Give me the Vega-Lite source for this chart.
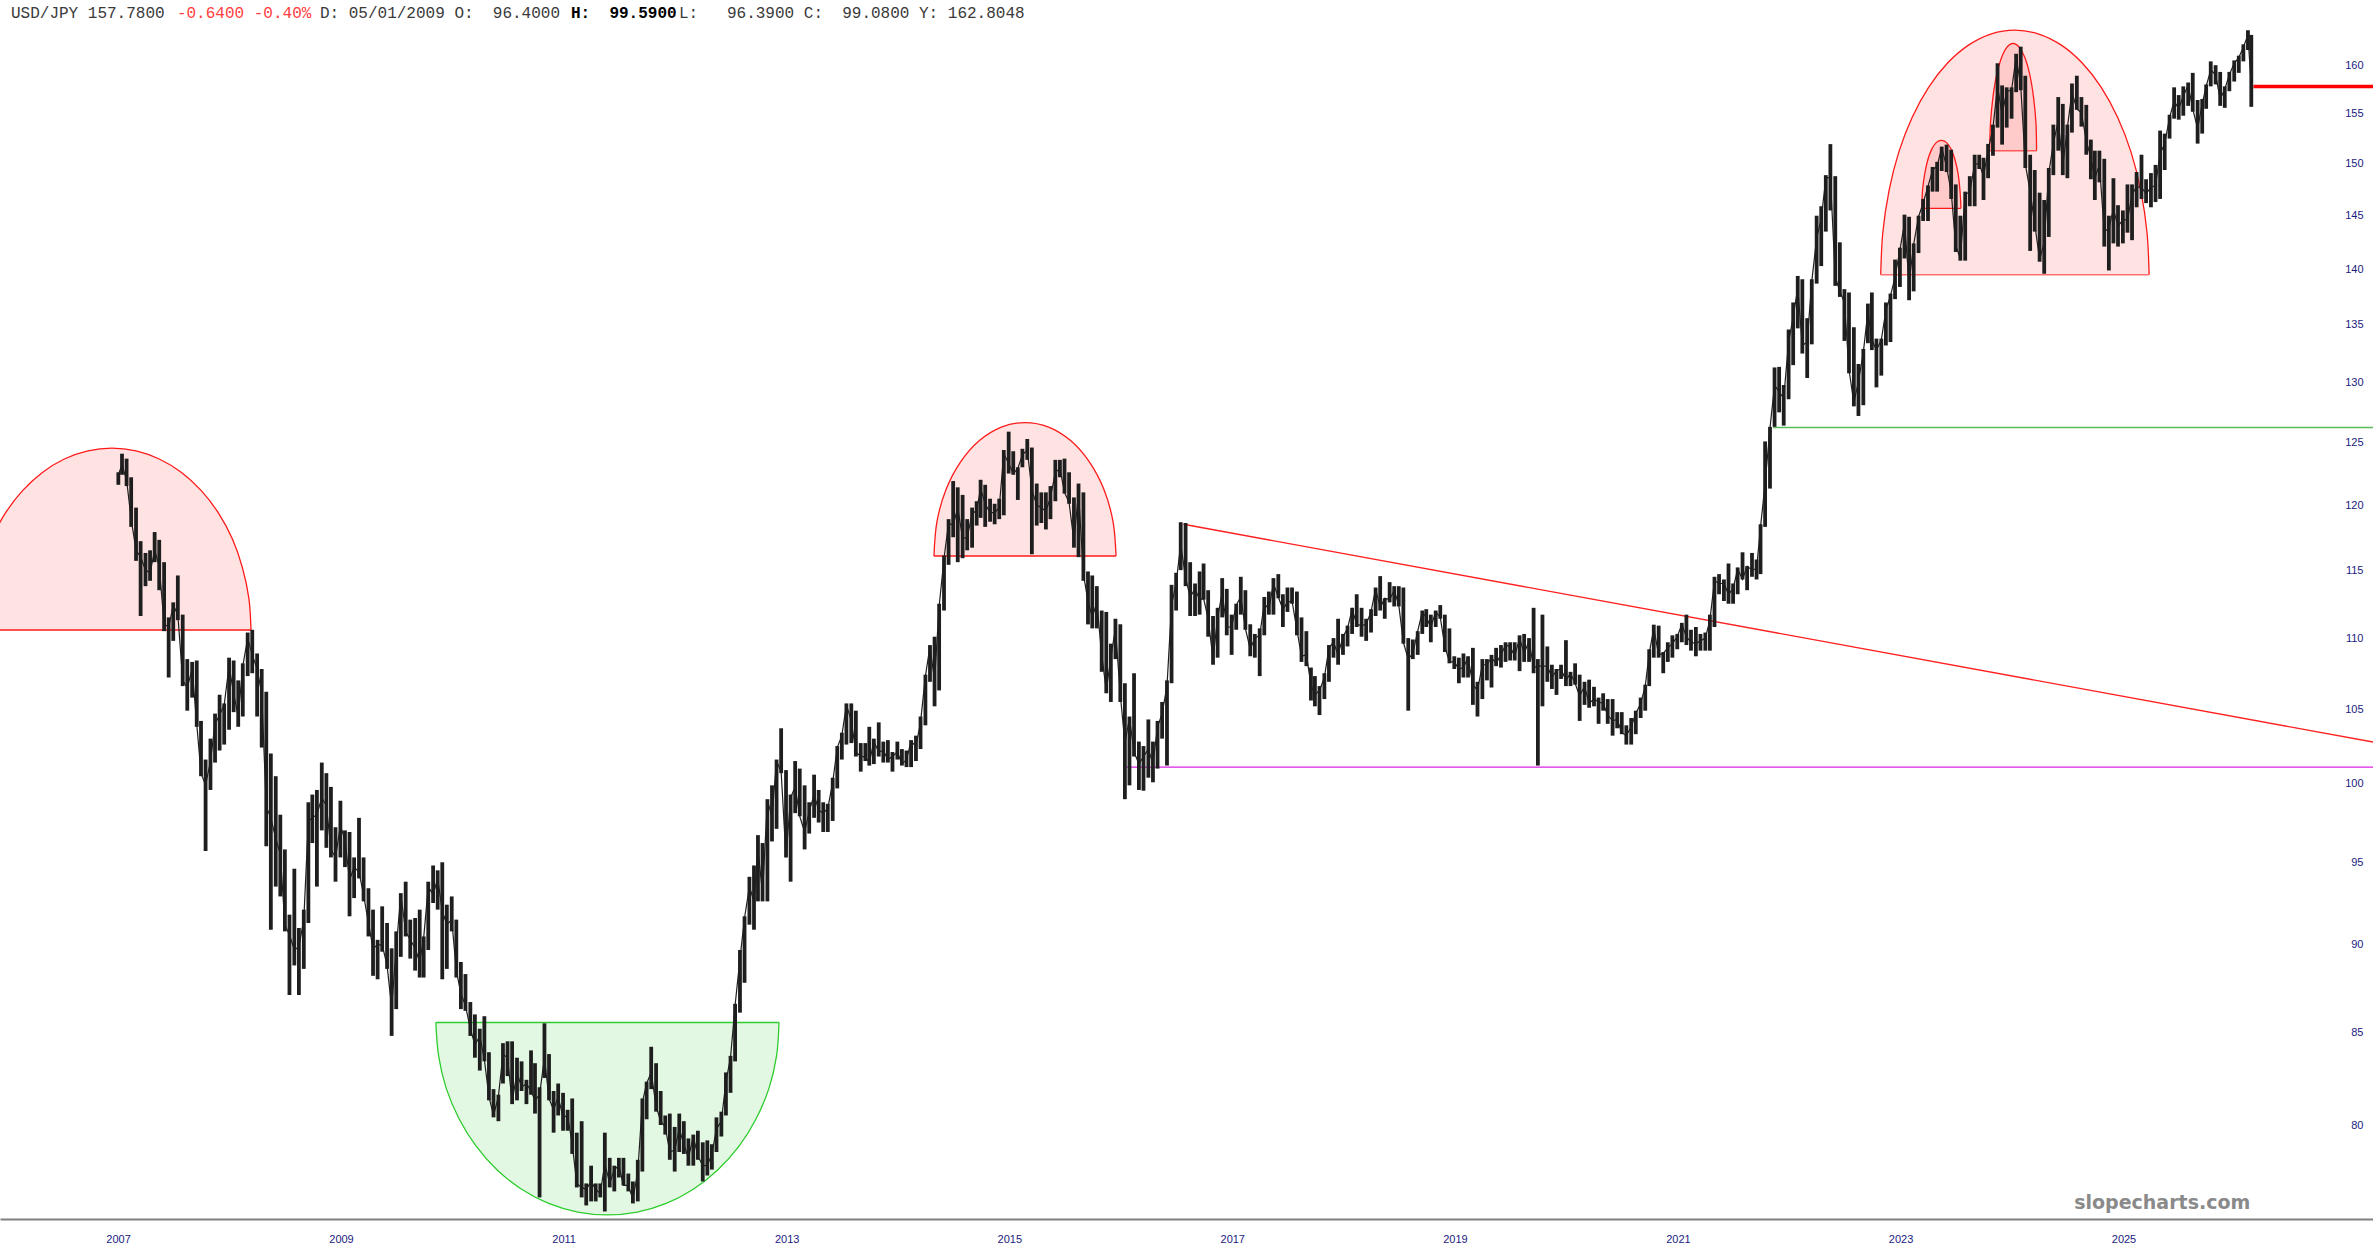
{
  "$schema": "https://vega.github.io/schema/vega-lite/v6.json",
  "width": 2373,
  "height": 1219,
  "padding": 0,
  "autosize": {"type": "pad"},
  "background": "#ffffff",
  "config": {
    "view": {"stroke": null},
    "axisY": {
      "grid": false,
      "ticks": false,
      "domain": false,
      "labelAlign": "right",
      "labelBaseline": "middle",
      "labelPadding": 0,
      "labelColor": "#1a1a80",
      "labelFont": "Liberation Sans Narrow, Liberation Sans, sans-serif",
      "labelFontSize": 11,
      "labelOverlap": false,
      "labelFlush": false
    }
  },
  "datasets": {
    "fx": [
      {"d":"2007-06-11","h":122.6,"l":121.6,"c":122.4},{"d":"2007-06-23","h":124.1,"l":122.4,"c":123.2},
      {"d":"2007-07-08","h":123.7,"l":121.5,"c":122.0},{"d":"2007-07-23","h":122.2,"l":118.3,"c":118.9},
      {"d":"2007-08-08","h":119.8,"l":115.7,"c":116.5},{"d":"2007-08-23","h":117.2,"l":111.6,"c":116.0},
      {"d":"2007-09-08","h":116.3,"l":113.8,"c":115.0},{"d":"2007-09-23","h":116.5,"l":114.2,"c":114.8},
      {"d":"2007-10-08","h":117.9,"l":115.6,"c":116.5},{"d":"2007-10-23","h":117.3,"l":113.5,"c":115.3},
      {"d":"2007-11-08","h":115.6,"l":110.5,"c":111.0},{"d":"2007-11-23","h":111.5,"l":107.2,"c":110.8},
      {"d":"2007-12-08","h":112.6,"l":109.8,"c":112.4},{"d":"2007-12-23","h":114.6,"l":111.3,"c":111.7},
      {"d":"2008-01-08","h":111.7,"l":106.6,"c":107.0},{"d":"2008-01-23","h":108.5,"l":104.9,"c":106.5},
      {"d":"2008-02-08","h":108.3,"l":105.8,"c":107.8},{"d":"2008-02-23","h":108.4,"l":103.8,"c":104.0},
      {"d":"2008-03-08","h":104.2,"l":100.5,"c":100.7},{"d":"2008-03-23","h":101.6,"l":95.7,"c":99.9},
      {"d":"2008-04-08","h":103.0,"l":99.6,"c":101.5},{"d":"2008-04-23","h":104.7,"l":101.4,"c":104.0},
      {"d":"2008-05-08","h":106.0,"l":102.2,"c":104.6},{"d":"2008-05-23","h":105.4,"l":102.6,"c":105.3},
      {"d":"2008-06-08","h":108.6,"l":103.6,"c":108.0},{"d":"2008-06-23","h":108.4,"l":104.8,"c":106.1},
      {"d":"2008-07-08","h":107.0,"l":103.8,"c":104.5},{"d":"2008-07-23","h":108.2,"l":104.5,"c":108.0},
      {"d":"2008-08-08","h":110.4,"l":107.3,"c":110.0},{"d":"2008-08-23","h":110.6,"l":107.5,"c":108.8},
      {"d":"2008-09-08","h":108.9,"l":104.5,"c":107.8},{"d":"2008-09-23","h":107.8,"l":102.4,"c":106.1},
      {"d":"2008-10-08","h":106.2,"l":96.0,"c":98.5},{"d":"2008-10-23","h":102.0,"l":90.9,"c":97.8},
      {"d":"2008-11-08","h":100.5,"l":93.5,"c":96.5},{"d":"2008-11-23","h":98.0,"l":92.9,"c":95.5},
      {"d":"2008-12-08","h":95.8,"l":90.8,"c":91.2},{"d":"2008-12-23","h":91.8,"l":87.1,"c":90.6},
      {"d":"2009-01-08","h":94.6,"l":88.8,"c":89.7},{"d":"2009-01-23","h":91.0,"l":87.1,"c":89.9},
      {"d":"2009-02-08","h":92.1,"l":88.6,"c":91.5},{"d":"2009-02-23","h":98.8,"l":91.3,"c":97.6},
      {"d":"2009-03-08","h":99.3,"l":96.2,"c":97.8},{"d":"2009-03-23","h":99.6,"l":93.5,"c":98.0},
      {"d":"2009-04-08","h":101.4,"l":97.0,"c":99.1},{"d":"2009-04-23","h":100.7,"l":95.9,"c":98.6},
      {"d":"2009-05-08","h":99.8,"l":95.3,"c":95.8},{"d":"2009-05-23","h":97.2,"l":93.8,"c":95.3},
      {"d":"2009-06-08","h":98.9,"l":95.3,"c":97.3},{"d":"2009-06-23","h":97.0,"l":94.7,"c":96.4},
      {"d":"2009-07-08","h":96.9,"l":91.7,"c":93.9},{"d":"2009-07-23","h":95.3,"l":92.8,"c":94.7},
      {"d":"2009-08-08","h":97.8,"l":94.0,"c":94.4},{"d":"2009-08-23","h":95.3,"l":92.6,"c":93.0},
      {"d":"2009-09-08","h":93.4,"l":90.5,"c":91.3},{"d":"2009-09-23","h":92.1,"l":88.2,"c":89.8},
      {"d":"2009-10-08","h":90.3,"l":88.0,"c":90.0},{"d":"2009-10-23","h":92.3,"l":89.6,"c":90.0},
      {"d":"2009-11-08","h":91.3,"l":88.6,"c":88.8},{"d":"2009-11-23","h":89.8,"l":84.8,"c":86.4},
      {"d":"2009-12-08","h":90.8,"l":86.3,"c":89.8},{"d":"2009-12-23","h":93.1,"l":89.3,"c":93.0},
      {"d":"2010-01-08","h":93.8,"l":90.5,"c":90.8},{"d":"2010-01-23","h":91.5,"l":89.2,"c":90.3},
      {"d":"2010-02-08","h":91.6,"l":88.5,"c":89.8},{"d":"2010-02-23","h":92.1,"l":88.1,"c":89.0},
      {"d":"2010-03-08","h":90.5,"l":88.1,"c":90.4},{"d":"2010-03-23","h":93.8,"l":89.7,"c":93.5},
      {"d":"2010-04-08","h":94.8,"l":92.5,"c":93.0},{"d":"2010-04-23","h":94.5,"l":92.1,"c":94.0},
      {"d":"2010-05-08","h":95.0,"l":88.0,"c":92.0},{"d":"2010-05-23","h":92.4,"l":88.6,"c":91.2},
      {"d":"2010-06-08","h":92.9,"l":90.8,"c":91.5},{"d":"2010-06-23","h":91.5,"l":88.1,"c":88.5},
      {"d":"2010-07-08","h":89.0,"l":86.3,"c":87.2},{"d":"2010-07-23","h":88.3,"l":86.2,"c":86.5},
      {"d":"2010-08-08","h":86.7,"l":84.8,"c":85.2},{"d":"2010-08-23","h":86.0,"l":83.6,"c":84.3},
      {"d":"2010-09-08","h":85.2,"l":82.9,"c":84.8},{"d":"2010-09-23","h":85.9,"l":83.4,"c":83.5},
      {"d":"2010-10-08","h":83.9,"l":81.3,"c":81.5},{"d":"2010-10-23","h":81.9,"l":80.4,"c":80.5},
      {"d":"2010-11-08","h":81.6,"l":80.2,"c":81.5},{"d":"2010-11-23","h":84.4,"l":82.2,"c":83.8},
      {"d":"2010-12-08","h":84.5,"l":82.6,"c":83.6},{"d":"2010-12-23","h":84.5,"l":81.1,"c":81.2},
      {"d":"2011-01-08","h":83.6,"l":81.3,"c":82.8},{"d":"2011-01-23","h":83.4,"l":81.8,"c":82.0},
      {"d":"2011-02-08","h":82.4,"l":81.1,"c":82.2},{"d":"2011-02-23","h":84.0,"l":81.6,"c":81.8},
      {"d":"2011-03-08","h":83.3,"l":80.6,"c":81.3},{"d":"2011-03-23","h":82.0,"l":76.3,"c":81.6},
      {"d":"2011-04-08","h":85.5,"l":82.5,"c":83.6},{"d":"2011-04-23","h":83.8,"l":81.3,"c":81.4},
      {"d":"2011-05-08","h":81.8,"l":79.6,"c":80.8},{"d":"2011-05-23","h":82.2,"l":80.5,"c":81.5},
      {"d":"2011-06-08","h":81.7,"l":79.7,"c":80.4},{"d":"2011-06-23","h":80.8,"l":79.7,"c":80.5},
      {"d":"2011-07-08","h":81.4,"l":78.5,"c":79.0},{"d":"2011-07-23","h":79.6,"l":76.8,"c":77.0},
      {"d":"2011-08-08","h":80.2,"l":76.3,"c":76.8},{"d":"2011-08-23","h":77.0,"l":75.9,"c":76.7},
      {"d":"2011-09-08","h":77.9,"l":76.1,"c":77.1},{"d":"2011-09-23","h":77.0,"l":76.1,"c":76.7},
      {"d":"2011-10-08","h":77.0,"l":76.3,"c":76.5},{"d":"2011-10-23","h":79.6,"l":75.6,"c":78.0},
      {"d":"2011-11-08","h":78.3,"l":76.8,"c":77.0},{"d":"2011-11-23","h":77.9,"l":76.6,"c":77.7},
      {"d":"2011-12-08","h":78.3,"l":77.3,"c":77.9},{"d":"2011-12-23","h":78.3,"l":76.9,"c":76.9},
      {"d":"2012-01-08","h":77.5,"l":76.6,"c":76.9},{"d":"2012-01-23","h":77.1,"l":76.0,"c":76.2},
      {"d":"2012-02-08","h":78.2,"l":76.1,"c":77.6},{"d":"2012-02-23","h":81.4,"l":77.6,"c":81.2},
      {"d":"2012-03-08","h":82.3,"l":80.3,"c":82.2},{"d":"2012-03-23","h":84.2,"l":81.9,"c":82.8},
      {"d":"2012-04-08","h":83.3,"l":80.7,"c":81.0},{"d":"2012-04-23","h":81.8,"l":80.0,"c":80.2},
      {"d":"2012-05-08","h":80.5,"l":79.5,"c":79.9},{"d":"2012-05-23","h":80.6,"l":78.2,"c":78.6},
      {"d":"2012-06-08","h":79.9,"l":77.6,"c":78.7},{"d":"2012-06-23","h":80.6,"l":78.6,"c":79.8},
      {"d":"2012-07-08","h":80.2,"l":78.5,"c":79.0},{"d":"2012-07-23","h":79.3,"l":77.9,"c":78.3},
      {"d":"2012-08-08","h":79.5,"l":77.9,"c":79.4},{"d":"2012-08-23","h":79.7,"l":78.2,"c":78.4},
      {"d":"2012-09-08","h":79.1,"l":77.1,"c":77.9},{"d":"2012-09-23","h":79.2,"l":77.4,"c":77.9},
      {"d":"2012-10-08","h":79.0,"l":77.7,"c":78.5},{"d":"2012-10-23","h":80.4,"l":78.6,"c":79.8},
      {"d":"2012-11-08","h":80.7,"l":79.4,"c":80.2},{"d":"2012-11-23","h":82.8,"l":80.5,"c":82.3},
      {"d":"2012-12-08","h":83.7,"l":81.7,"c":83.6},{"d":"2012-12-23","h":86.6,"l":83.4,"c":86.5},
      {"d":"2013-01-08","h":89.7,"l":86.1,"c":89.2},{"d":"2013-01-23","h":91.7,"l":87.8,"c":91.6},
      {"d":"2013-02-08","h":94.1,"l":91.2,"c":93.5},{"d":"2013-02-23","h":94.8,"l":90.9,"c":92.6},
      {"d":"2013-03-08","h":96.7,"l":92.6,"c":95.8},{"d":"2013-03-23","h":96.2,"l":92.6,"c":93.1},
      {"d":"2013-04-08","h":99.0,"l":92.6,"c":98.9},{"d":"2013-04-23","h":99.9,"l":96.3,"c":97.9},
      {"d":"2013-05-08","h":101.6,"l":97.1,"c":101.5},{"d":"2013-05-23","h":103.7,"l":100.7,"c":100.8},
      {"d":"2013-06-08","h":100.9,"l":95.3,"c":95.3},{"d":"2013-06-23","h":99.3,"l":93.8,"c":99.1},
      {"d":"2013-07-08","h":101.5,"l":98.1,"c":99.8},{"d":"2013-07-23","h":101.0,"l":97.9,"c":97.9},
      {"d":"2013-08-08","h":99.9,"l":95.8,"c":96.9},{"d":"2013-08-23","h":98.8,"l":96.8,"c":98.2},
      {"d":"2013-09-08","h":100.6,"l":97.8,"c":99.3},{"d":"2013-09-23","h":99.6,"l":97.5,"c":98.3},
      {"d":"2013-10-08","h":98.8,"l":96.9,"c":98.1},{"d":"2013-10-23","h":98.7,"l":96.9,"c":98.4},
      {"d":"2013-11-08","h":100.4,"l":97.6,"c":100.1},{"d":"2013-11-23","h":102.5,"l":99.7,"c":102.4},
      {"d":"2013-12-08","h":103.4,"l":101.6,"c":103.2},{"d":"2013-12-23","h":105.4,"l":102.6,"c":105.3},
      {"d":"2014-01-08","h":105.4,"l":102.7,"c":104.2},{"d":"2014-01-23","h":104.9,"l":101.8,"c":102.1},
      {"d":"2014-02-08","h":102.7,"l":100.8,"c":101.8},{"d":"2014-02-23","h":102.7,"l":101.5,"c":101.8},
      {"d":"2014-03-08","h":103.8,"l":101.2,"c":101.4},{"d":"2014-03-23","h":103.0,"l":101.3,"c":102.8},
      {"d":"2014-04-08","h":104.1,"l":101.8,"c":102.1},{"d":"2014-04-23","h":102.8,"l":101.4,"c":102.2},
      {"d":"2014-05-08","h":102.9,"l":101.4,"c":101.6},{"d":"2014-05-23","h":102.1,"l":100.8,"c":101.8},
      {"d":"2014-06-08","h":102.8,"l":101.6,"c":102.1},{"d":"2014-06-23","h":102.3,"l":101.2,"c":101.3},
      {"d":"2014-07-08","h":102.2,"l":101.1,"c":101.6},{"d":"2014-07-23","h":102.9,"l":101.1,"c":102.8},
      {"d":"2014-08-08","h":103.2,"l":101.5,"c":102.5},{"d":"2014-08-23","h":104.5,"l":102.3,"c":104.1},
      {"d":"2014-09-08","h":107.4,"l":103.9,"c":107.3},{"d":"2014-09-23","h":109.5,"l":106.9,"c":109.4},
      {"d":"2014-10-08","h":110.1,"l":105.2,"c":107.0},{"d":"2014-10-23","h":112.5,"l":106.3,"c":112.3},
      {"d":"2014-11-08","h":116.1,"l":112.0,"c":115.9},{"d":"2014-11-23","h":118.9,"l":115.4,"c":118.6},
      {"d":"2014-12-08","h":121.9,"l":117.5,"c":118.4},{"d":"2014-12-23","h":121.4,"l":115.6,"c":119.8},
      {"d":"2015-01-08","h":120.8,"l":115.9,"c":117.4},{"d":"2015-01-23","h":118.9,"l":116.5,"c":117.5},
      {"d":"2015-02-08","h":119.8,"l":116.7,"c":119.3},{"d":"2015-02-23","h":120.3,"l":118.4,"c":119.6},
      {"d":"2015-03-08","h":122.0,"l":119.0,"c":121.3},{"d":"2015-03-23","h":121.6,"l":118.3,"c":120.1},
      {"d":"2015-04-08","h":120.5,"l":118.7,"c":119.4},{"d":"2015-04-23","h":120.1,"l":118.5,"c":119.4},
      {"d":"2015-05-08","h":120.5,"l":118.9,"c":119.8},{"d":"2015-05-23","h":124.4,"l":119.2,"c":124.1},
      {"d":"2015-06-08","h":125.9,"l":122.5,"c":123.3},{"d":"2015-06-23","h":124.3,"l":122.4,"c":122.5},
      {"d":"2015-07-08","h":123.0,"l":120.4,"c":122.9},{"d":"2015-07-23","h":124.5,"l":123.0,"c":124.0},
      {"d":"2015-08-08","h":125.3,"l":123.6,"c":124.4},{"d":"2015-08-23","h":124.6,"l":116.2,"c":121.2},
      {"d":"2015-09-08","h":121.7,"l":118.4,"c":120.0},{"d":"2015-09-23","h":121.0,"l":118.6,"c":119.8},
      {"d":"2015-10-08","h":121.0,"l":118.1,"c":119.5},{"d":"2015-10-23","h":121.5,"l":118.9,"c":120.6},
      {"d":"2015-11-08","h":123.6,"l":120.3,"c":122.6},{"d":"2015-11-23","h":123.6,"l":122.2,"c":122.9},
      {"d":"2015-12-08","h":123.7,"l":120.9,"c":121.0},{"d":"2015-12-23","h":122.6,"l":120.1,"c":120.2},
      {"d":"2016-01-08","h":120.6,"l":116.7,"c":117.2},{"d":"2016-01-23","h":121.7,"l":115.98,"c":121.0},
      {"d":"2016-02-08","h":121.0,"l":114.2,"c":114.7},{"d":"2016-02-23","h":114.9,"l":110.99,"c":112.7},
      {"d":"2016-03-08","h":114.6,"l":110.7,"c":111.5},{"d":"2016-03-23","h":113.8,"l":110.7,"c":112.6},
      {"d":"2016-04-08","h":112.0,"l":107.6,"c":108.8},{"d":"2016-04-23","h":111.9,"l":106.1,"c":106.3},
      {"d":"2016-05-08","h":109.6,"l":105.5,"c":108.6},{"d":"2016-05-23","h":111.4,"l":108.5,"c":110.7},
      {"d":"2016-06-08","h":111.0,"l":105.5,"c":106.0},{"d":"2016-06-23","h":106.8,"l":99.0,"c":102.7},
      {"d":"2016-07-08","h":104.5,"l":99.9,"c":104.4},{"d":"2016-07-23","h":107.5,"l":101.8,"c":102.1},
      {"d":"2016-08-08","h":102.8,"l":99.6,"c":101.3},{"d":"2016-08-23","h":102.5,"l":99.55,"c":101.8},
      {"d":"2016-09-08","h":104.3,"l":100.4,"c":102.3},{"d":"2016-09-23","h":102.8,"l":100.1,"c":101.3},
      {"d":"2016-10-08","h":104.2,"l":101.0,"c":103.8},{"d":"2016-10-23","h":105.5,"l":103.0,"c":104.7},
      {"d":"2016-11-08","h":107.0,"l":101.2,"c":106.6},{"d":"2016-11-23","h":113.9,"l":106.8,"c":112.4},
      {"d":"2016-12-08","h":114.8,"l":112.0,"c":114.0},{"d":"2016-12-23","h":118.66,"l":115.0,"c":117.0},
      {"d":"2017-01-08","h":118.6,"l":113.8,"c":114.4},{"d":"2017-01-23","h":115.6,"l":111.6,"c":113.0},
      {"d":"2017-02-08","h":114.0,"l":111.6,"c":113.6},{"d":"2017-02-23","h":114.9,"l":111.7,"c":112.8},
      {"d":"2017-03-08","h":115.5,"l":112.8,"c":112.9},{"d":"2017-03-23","h":113.5,"l":110.1,"c":111.4},
      {"d":"2017-04-08","h":111.6,"l":108.1,"c":108.5},{"d":"2017-04-23","h":112.2,"l":108.6,"c":111.5},
      {"d":"2017-05-08","h":114.4,"l":111.5,"c":113.3},{"d":"2017-05-23","h":113.6,"l":110.2,"c":110.8},
      {"d":"2017-06-08","h":111.7,"l":108.8,"c":110.8},{"d":"2017-06-23","h":112.5,"l":110.6,"c":112.4},
      {"d":"2017-07-08","h":114.5,"l":111.7,"c":113.0},{"d":"2017-07-23","h":113.5,"l":110.6,"c":110.7},
      {"d":"2017-08-08","h":111.0,"l":108.7,"c":109.2},{"d":"2017-08-23","h":110.3,"l":108.6,"c":110.0},
      {"d":"2017-09-08","h":110.7,"l":107.3,"c":110.2},{"d":"2017-09-23","h":113.0,"l":110.2,"c":112.5},
      {"d":"2017-10-08","h":113.4,"l":111.7,"c":112.1},{"d":"2017-10-23","h":114.4,"l":111.7,"c":114.0},
      {"d":"2017-11-08","h":114.7,"l":112.9,"c":113.0},{"d":"2017-11-23","h":113.2,"l":110.8,"c":112.1},
      {"d":"2017-12-08","h":113.7,"l":111.9,"c":112.6},{"d":"2017-12-23","h":113.7,"l":112.5,"c":112.7},
      {"d":"2018-01-08","h":113.4,"l":110.2,"c":110.6},{"d":"2018-01-23","h":111.5,"l":108.3,"c":108.7},
      {"d":"2018-02-08","h":110.5,"l":108.0,"c":108.8},{"d":"2018-02-23","h":107.9,"l":105.6,"c":106.7},
      {"d":"2018-03-08","h":107.3,"l":105.2,"c":106.0},{"d":"2018-03-23","h":106.6,"l":104.6,"c":106.3},
      {"d":"2018-04-08","h":107.5,"l":105.7,"c":107.2},{"d":"2018-04-23","h":109.5,"l":106.9,"c":109.3},
      {"d":"2018-05-08","h":110.0,"l":108.6,"c":109.7},{"d":"2018-05-23","h":111.4,"l":108.1,"c":108.8},
      {"d":"2018-06-08","h":110.3,"l":108.8,"c":110.1},{"d":"2018-06-23","h":110.9,"l":109.4,"c":110.7},
      {"d":"2018-07-08","h":112.2,"l":110.3,"c":112.1},{"d":"2018-07-23","h":113.2,"l":110.8,"c":111.0},
      {"d":"2018-08-08","h":112.2,"l":110.1,"c":110.9},{"d":"2018-08-23","h":111.4,"l":109.8,"c":111.0},
      {"d":"2018-09-08","h":112.1,"l":110.4,"c":111.9},{"d":"2018-09-23","h":113.7,"l":111.6,"c":113.6},
      {"d":"2018-10-08","h":114.55,"l":112.0,"c":112.2},{"d":"2018-10-23","h":112.9,"l":111.4,"c":112.9},
      {"d":"2018-11-08","h":114.1,"l":112.6,"c":112.8},{"d":"2018-11-23","h":113.8,"l":112.3,"c":113.5},
      {"d":"2018-12-08","h":113.8,"l":112.3,"c":112.4},{"d":"2018-12-23","h":113.7,"l":109.6,"c":109.7},
      {"d":"2019-01-08","h":110.0,"l":104.9,"c":108.5},{"d":"2019-01-23","h":109.9,"l":108.5,"c":108.9},
      {"d":"2019-02-08","h":110.5,"l":108.8,"c":110.5},{"d":"2019-02-23","h":112.0,"l":110.3,"c":111.9},
      {"d":"2019-03-08","h":112.1,"l":110.8,"c":111.5},{"d":"2019-03-23","h":111.7,"l":109.7,"c":110.8},
      {"d":"2019-04-08","h":112.0,"l":110.8,"c":111.9},{"d":"2019-04-23","h":112.4,"l":111.4,"c":111.5},
      {"d":"2019-05-08","h":111.7,"l":109.0,"c":109.4},{"d":"2019-05-23","h":110.7,"l":108.2,"c":108.3},
      {"d":"2019-06-08","h":108.7,"l":107.8,"c":108.3},{"d":"2019-06-23","h":108.6,"l":106.8,"c":107.8},
      {"d":"2019-07-08","h":108.9,"l":107.2,"c":107.9},{"d":"2019-07-23","h":108.7,"l":107.2,"c":108.6},
      {"d":"2019-08-08","h":109.3,"l":105.3,"c":106.7},{"d":"2019-08-23","h":106.9,"l":104.5,"c":106.3},
      {"d":"2019-09-08","h":108.5,"l":105.7,"c":108.1},{"d":"2019-09-23","h":108.5,"l":107.0,"c":108.1},
      {"d":"2019-10-08","h":108.8,"l":106.5,"c":108.6},{"d":"2019-10-23","h":109.3,"l":108.0,"c":108.2},
      {"d":"2019-11-08","h":109.5,"l":107.9,"c":108.8},{"d":"2019-11-23","h":109.7,"l":108.3,"c":109.5},
      {"d":"2019-12-08","h":109.7,"l":108.4,"c":109.4},{"d":"2019-12-23","h":109.7,"l":108.4,"c":108.7},
      {"d":"2020-01-08","h":110.2,"l":107.65,"c":110.0},{"d":"2020-01-23","h":110.3,"l":108.3,"c":108.9},
      {"d":"2020-02-08","h":110.0,"l":108.3,"c":109.8},{"d":"2020-02-23","h":112.2,"l":107.5,"c":107.9},
      {"d":"2020-03-08","h":108.5,"l":101.2,"c":108.0},{"d":"2020-03-23","h":111.7,"l":105.2,"c":108.0},
      {"d":"2020-04-08","h":109.4,"l":106.9,"c":108.0},{"d":"2020-04-23","h":108.1,"l":106.4,"c":107.2},
      {"d":"2020-05-08","h":107.8,"l":105.99,"c":107.7},{"d":"2020-05-23","h":108.1,"l":107.1,"c":107.8},
      {"d":"2020-06-08","h":109.85,"l":106.6,"c":107.0},{"d":"2020-06-23","h":107.6,"l":106.6,"c":107.5},
      {"d":"2020-07-08","h":108.2,"l":106.7,"c":106.8},{"d":"2020-07-23","h":107.4,"l":104.2,"c":105.9},
      {"d":"2020-08-08","h":106.9,"l":105.3,"c":106.6},{"d":"2020-08-23","h":107.05,"l":105.1,"c":105.4},
      {"d":"2020-09-08","h":106.55,"l":105.2,"c":105.7},{"d":"2020-09-23","h":105.8,"l":104.0,"c":105.5},
      {"d":"2020-10-08","h":106.1,"l":104.9,"c":105.4},{"d":"2020-10-23","h":105.7,"l":104.0,"c":104.6},
      {"d":"2020-11-08","h":105.7,"l":103.2,"c":104.2},{"d":"2020-11-23","h":104.8,"l":103.7,"c":104.3},
      {"d":"2020-12-08","h":104.8,"l":103.3,"c":103.4},{"d":"2020-12-23","h":103.9,"l":102.6,"c":103.2},
      {"d":"2021-01-08","h":104.4,"l":102.6,"c":103.8},{"d":"2021-01-23","h":104.9,"l":103.3,"c":104.7},
      {"d":"2021-02-08","h":105.8,"l":104.4,"c":105.4},{"d":"2021-02-23","h":106.7,"l":104.9,"c":106.6},
      {"d":"2021-03-08","h":109.2,"l":106.6,"c":108.9},{"d":"2021-03-23","h":110.97,"l":108.6,"c":110.7},
      {"d":"2021-04-08","h":110.9,"l":108.6,"c":108.8},{"d":"2021-04-23","h":109.0,"l":107.5,"c":108.9},
      {"d":"2021-05-08","h":109.7,"l":108.3,"c":109.3},{"d":"2021-05-23","h":110.2,"l":108.6,"c":109.6},
      {"d":"2021-06-08","h":110.3,"l":109.2,"c":110.1},{"d":"2021-06-23","h":111.1,"l":109.7,"c":111.0},
      {"d":"2021-07-08","h":111.7,"l":109.5,"c":110.1},{"d":"2021-07-23","h":110.6,"l":109.1,"c":109.7},
      {"d":"2021-08-08","h":110.8,"l":108.7,"c":109.6},{"d":"2021-08-23","h":110.3,"l":109.1,"c":109.8},
      {"d":"2021-09-08","h":110.4,"l":109.1,"c":110.0},{"d":"2021-09-23","h":111.7,"l":109.1,"c":111.3},
      {"d":"2021-10-08","h":114.5,"l":110.8,"c":114.2},{"d":"2021-10-23","h":114.7,"l":113.2,"c":114.0},
      {"d":"2021-11-08","h":114.3,"l":112.7,"c":114.0},{"d":"2021-11-23","h":115.5,"l":112.5,"c":113.2},
      {"d":"2021-12-08","h":114.0,"l":112.5,"c":113.6},{"d":"2021-12-23","h":115.2,"l":113.2,"c":115.1},
      {"d":"2022-01-08","h":116.35,"l":114.3,"c":114.3},{"d":"2022-01-23","h":115.3,"l":113.5,"c":115.3},
      {"d":"2022-02-08","h":116.3,"l":114.5,"c":115.0},{"d":"2022-02-23","h":115.8,"l":114.3,"c":115.1},
      {"d":"2022-03-08","h":118.5,"l":114.7,"c":118.3},{"d":"2022-03-23","h":125.1,"l":118.3,"c":121.7},
      {"d":"2022-04-08","h":126.3,"l":121.3,"c":126.2},{"d":"2022-04-23","h":131.3,"l":126.3,"c":129.8},
      {"d":"2022-05-08","h":131.35,"l":127.5,"c":129.2},{"d":"2022-05-23","h":129.8,"l":126.4,"c":128.7},
      {"d":"2022-06-08","h":134.6,"l":128.6,"c":133.5},{"d":"2022-06-23","h":137.0,"l":131.5,"c":135.7},
      {"d":"2022-07-08","h":139.4,"l":134.7,"c":138.3},{"d":"2022-07-23","h":139.1,"l":132.5,"c":133.2},
      {"d":"2022-08-08","h":135.6,"l":130.4,"c":133.5},{"d":"2022-08-23","h":139.1,"l":133.3,"c":138.9},
      {"d":"2022-09-08","h":145.0,"l":138.7,"c":142.9},{"d":"2022-09-23","h":145.9,"l":140.3,"c":144.7},
      {"d":"2022-10-08","h":148.9,"l":143.5,"c":148.6},{"d":"2022-10-23","h":151.95,"l":145.5,"c":148.7},
      {"d":"2022-11-08","h":148.8,"l":138.5,"c":139.3},{"d":"2022-11-23","h":142.5,"l":137.5,"c":138.0},
      {"d":"2022-12-08","h":138.2,"l":133.6,"c":137.0},{"d":"2022-12-23","h":137.9,"l":130.8,"c":131.1},
      {"d":"2023-01-08","h":134.8,"l":128.0,"c":128.3},{"d":"2023-01-23","h":131.6,"l":127.2,"c":130.1},
      {"d":"2023-02-08","h":132.9,"l":128.1,"c":132.6},{"d":"2023-02-23","h":136.9,"l":133.4,"c":136.2},
      {"d":"2023-03-08","h":137.9,"l":132.8,"c":133.7},{"d":"2023-03-23","h":133.8,"l":129.6,"c":132.8},
      {"d":"2023-04-08","h":133.8,"l":130.6,"c":133.7},{"d":"2023-04-23","h":137.0,"l":133.2,"c":136.3},
      {"d":"2023-05-08","h":137.8,"l":133.5,"c":137.6},{"d":"2023-05-23","h":140.9,"l":137.3,"c":139.3},
      {"d":"2023-06-08","h":142.0,"l":138.4,"c":141.8},{"d":"2023-06-23","h":145.1,"l":141.0,"c":144.3},
      {"d":"2023-07-08","h":144.9,"l":137.2,"c":138.8},{"d":"2023-07-23","h":142.4,"l":138.0,"c":142.3},
      {"d":"2023-08-08","h":145.0,"l":141.5,"c":144.9},{"d":"2023-08-23","h":146.6,"l":144.5,"c":146.2},
      {"d":"2023-09-08","h":147.9,"l":144.5,"c":147.8},{"d":"2023-09-23","h":149.7,"l":147.3,"c":149.4},
      {"d":"2023-10-08","h":150.2,"l":147.3,"c":149.8},{"d":"2023-10-23","h":151.7,"l":149.3,"c":151.6},
      {"d":"2023-11-08","h":151.9,"l":149.2,"c":149.7},{"d":"2023-11-23","h":151.4,"l":146.6,"c":147.3},
      {"d":"2023-12-08","h":148.0,"l":141.6,"c":142.2},{"d":"2023-12-23","h":145.0,"l":140.8,"c":141.0},
      {"d":"2024-01-08","h":147.3,"l":140.8,"c":147.1},{"d":"2024-01-23","h":148.8,"l":145.9,"c":147.2},
      {"d":"2024-02-08","h":150.9,"l":145.9,"c":150.0},{"d":"2024-02-23","h":150.9,"l":149.5,"c":150.0},
      {"d":"2024-03-08","h":150.6,"l":146.5,"c":148.8},{"d":"2024-03-23","h":151.97,"l":148.6,"c":151.3},
      {"d":"2024-04-08","h":153.9,"l":150.8,"c":153.6},{"d":"2024-04-23","h":160.2,"l":153.6,"c":157.8},
      {"d":"2024-05-08","h":157.9,"l":151.9,"c":154.9},{"d":"2024-05-23","h":157.7,"l":153.6,"c":157.3},
      {"d":"2024-06-08","h":157.7,"l":154.5,"c":157.4},{"d":"2024-06-23","h":161.2,"l":157.2,"c":160.9},
      {"d":"2024-07-08","h":161.95,"l":157.4,"c":157.9},{"d":"2024-07-23","h":158.9,"l":149.6,"c":150.0},
      {"d":"2024-08-08","h":150.9,"l":141.7,"c":147.3},{"d":"2024-08-23","h":149.4,"l":143.5,"c":144.2},
      {"d":"2024-09-08","h":147.2,"l":140.7,"c":140.9},{"d":"2024-09-23","h":146.5,"l":139.6,"c":142.5},
      {"d":"2024-10-08","h":149.6,"l":143.0,"c":149.1},{"d":"2024-10-23","h":153.9,"l":148.9,"c":152.0},
      {"d":"2024-11-08","h":156.7,"l":151.3,"c":154.3},{"d":"2024-11-23","h":156.0,"l":148.9,"c":149.8},
      {"d":"2024-12-08","h":153.9,"l":148.6,"c":153.6},{"d":"2024-12-23","h":158.1,"l":153.1,"c":157.2},
      {"d":"2025-01-08","h":158.9,"l":155.4,"c":155.5},{"d":"2025-01-23","h":156.7,"l":153.7,"c":155.1},
      {"d":"2025-02-08","h":155.9,"l":150.9,"c":152.3},{"d":"2025-02-23","h":152.4,"l":148.5,"c":150.6},
      {"d":"2025-03-08","h":151.3,"l":146.5,"c":148.6},{"d":"2025-03-23","h":151.3,"l":148.2,"c":149.9},
      {"d":"2025-04-08","h":150.5,"l":142.1,"c":143.5},{"d":"2025-04-23","h":145.0,"l":139.9,"c":143.8},
      {"d":"2025-05-08","h":148.6,"l":142.4,"c":145.6},{"d":"2025-05-23","h":146.0,"l":142.1,"c":144.0},
      {"d":"2025-06-08","h":145.5,"l":142.4,"c":144.6},{"d":"2025-06-23","h":148.0,"l":143.4,"c":144.6},
      {"d":"2025-07-08","h":148.0,"l":142.7,"c":147.0},{"d":"2025-07-23","h":149.2,"l":145.8,"c":147.8},
      {"d":"2025-08-08","h":150.9,"l":146.6,"c":147.7},{"d":"2025-08-23","h":148.5,"l":146.2,"c":147.1},
      {"d":"2025-09-08","h":149.1,"l":145.8,"c":147.7},{"d":"2025-09-23","h":149.9,"l":146.3,"c":147.9},
      {"d":"2025-10-08","h":153.3,"l":146.6,"c":151.0},{"d":"2025-10-23","h":153.0,"l":149.4,"c":152.0},
      {"d":"2025-11-08","h":154.9,"l":152.5,"c":154.6},{"d":"2025-11-23","h":157.7,"l":154.5,"c":156.3},
      {"d":"2025-12-08","h":156.9,"l":154.4,"c":155.5},{"d":"2025-12-23","h":157.8,"l":154.8,"c":156.8},
      {"d":"2026-01-08","h":158.2,"l":155.8,"c":157.9},{"d":"2026-01-23","h":159.2,"l":155.2,"c":155.5},
      {"d":"2026-02-08","h":156.4,"l":152.0,"c":153.5},{"d":"2026-02-23","h":156.5,"l":153.0,"c":156.0},
      {"d":"2026-03-08","h":158.0,"l":155.5,"c":157.8},{"d":"2026-03-23","h":160.4,"l":157.8,"c":159.5},
      {"d":"2026-04-08","h":160.0,"l":158.0,"c":159.0},{"d":"2026-04-23","h":159.3,"l":155.8,"c":156.5},
      {"d":"2026-05-08","h":157.8,"l":155.6,"c":157.5},{"d":"2026-05-23","h":159.3,"l":157.3,"c":159.0},
      {"d":"2026-06-08","h":160.5,"l":158.3,"c":160.2},{"d":"2026-06-23","h":161.0,"l":159.2,"c":160.8},
      {"d":"2026-07-08","h":162.2,"l":160.4,"c":161.9},{"d":"2026-07-23","h":163.7,"l":161.6,"c":163.2},
      {"d":"2026-08-03","h":163.2,"l":155.7,"c":157.8}
    ],
    "arcs": [
      {"k":"e1","d":"2006-02-19","v":110.58,"b":110.58},{"k":"e1","d":"2006-02-26","v":112.89,"b":110.58},
      {"k":"e1","d":"2006-03-19","v":115.17,"b":110.58},{"k":"e1","d":"2006-04-21","v":117.36,"b":110.58},
      {"k":"e1","d":"2006-06-06","v":119.38,"b":110.58},{"k":"e1","d":"2006-08-01","v":121.14,"b":110.58},
      {"k":"e1","d":"2006-10-05","v":122.59,"b":110.58},{"k":"e1","d":"2006-12-16","v":123.67,"b":110.58},
      {"k":"e1","d":"2007-03-03","v":124.33,"b":110.58},{"k":"e1","d":"2007-05-21","v":124.56,"b":110.58},
      {"k":"e1","d":"2007-08-08","v":124.33,"b":110.58},{"k":"e1","d":"2007-10-23","v":123.67,"b":110.58},
      {"k":"e1","d":"2008-01-04","v":122.59,"b":110.58},{"k":"e1","d":"2008-03-09","v":121.14,"b":110.58},
      {"k":"e1","d":"2008-05-04","v":119.38,"b":110.58},{"k":"e1","d":"2008-06-19","v":117.36,"b":110.58},
      {"k":"e1","d":"2008-07-22","v":115.17,"b":110.58},{"k":"e1","d":"2008-08-12","v":112.89,"b":110.58},
      {"k":"e1","d":"2008-08-19","v":110.58,"b":110.58},
      {"k":"e2","d":"2010-04-17","v":85.55,"b":85.55},{"k":"e2","d":"2010-04-26","v":83.70,"b":85.55},
      {"k":"e2","d":"2010-05-21","v":81.94,"b":85.55},{"k":"e2","d":"2010-07-02","v":80.33,"b":85.55},
      {"k":"e2","d":"2010-08-27","v":78.90,"b":85.55},{"k":"e2","d":"2010-11-04","v":77.68,"b":85.55},
      {"k":"e2","d":"2011-01-23","v":76.71,"b":85.55},{"k":"e2","d":"2011-04-22","v":76.00,"b":85.55},
      {"k":"e2","d":"2011-07-26","v":75.57,"b":85.55},{"k":"e2","d":"2011-10-31","v":75.43,"b":85.55},
      {"k":"e2","d":"2012-02-06","v":75.57,"b":85.55},{"k":"e2","d":"2012-05-11","v":76.00,"b":85.55},
      {"k":"e2","d":"2012-08-08","v":76.71,"b":85.55},{"k":"e2","d":"2012-10-27","v":77.68,"b":85.55},
      {"k":"e2","d":"2013-01-05","v":78.90,"b":85.55},{"k":"e2","d":"2013-03-02","v":80.33,"b":85.55},
      {"k":"e2","d":"2013-04-13","v":81.94,"b":85.55},{"k":"e2","d":"2013-05-08","v":83.70,"b":85.55},
      {"k":"e2","d":"2013-05-16","v":85.55,"b":85.55},
      {"k":"e3","d":"2014-10-06","v":116.07,"b":116.07},{"k":"e3","d":"2014-10-16","v":118.72,"b":116.07},
      {"k":"e3","d":"2014-11-15","v":121.24,"b":116.07},{"k":"e3","d":"2015-01-02","v":123.45,"b":116.07},
      {"k":"e3","d":"2015-03-04","v":125.17,"b":116.07},{"k":"e3","d":"2015-05-15","v":126.28,"b":116.07},
      {"k":"e3","d":"2015-07-31","v":126.65,"b":116.07},{"k":"e3","d":"2015-10-17","v":126.28,"b":116.07},
      {"k":"e3","d":"2015-12-28","v":125.17,"b":116.07},{"k":"e3","d":"2016-02-27","v":123.45,"b":116.07},
      {"k":"e3","d":"2016-04-15","v":121.24,"b":116.07},{"k":"e3","d":"2016-05-15","v":118.72,"b":116.07},
      {"k":"e3","d":"2016-05-25","v":116.07,"b":116.07},
      {"k":"e4","d":"2023-04-06","v":139.51,"b":139.51},{"k":"e4","d":"2023-04-13","v":143.44,"b":139.51},
      {"k":"e4","d":"2023-05-03","v":147.36,"b":139.51},{"k":"e4","d":"2023-06-04","v":151.13,"b":139.51},
      {"k":"e4","d":"2023-07-18","v":154.62,"b":139.51},{"k":"e4","d":"2023-09-10","v":157.70,"b":139.51},
      {"k":"e4","d":"2023-11-12","v":160.25,"b":139.51},{"k":"e4","d":"2024-01-20","v":162.14,"b":139.51},
      {"k":"e4","d":"2024-04-03","v":163.32,"b":139.51},{"k":"e4","d":"2024-06-19","v":163.72,"b":139.51},
      {"k":"e4","d":"2024-09-03","v":163.32,"b":139.51},{"k":"e4","d":"2024-11-17","v":162.14,"b":139.51},
      {"k":"e4","d":"2025-01-25","v":160.25,"b":139.51},{"k":"e4","d":"2025-03-29","v":157.70,"b":139.51},
      {"k":"e4","d":"2025-05-22","v":154.62,"b":139.51},{"k":"e4","d":"2025-07-05","v":151.13,"b":139.51},
      {"k":"e4","d":"2025-08-06","v":147.36,"b":139.51},{"k":"e4","d":"2025-08-26","v":143.44,"b":139.51},
      {"k":"e4","d":"2025-09-02","v":139.51,"b":139.51},
      {"k":"eA","d":"2023-08-19","v":145.70,"b":145.70},{"k":"eA","d":"2023-08-21","v":147.39,"b":145.70},
      {"k":"eA","d":"2023-08-28","v":148.98,"b":145.70},{"k":"eA","d":"2023-09-07","v":150.36,"b":145.70},
      {"k":"eA","d":"2023-09-20","v":151.43,"b":145.70},{"k":"eA","d":"2023-10-05","v":152.10,"b":145.70},
      {"k":"eA","d":"2023-10-22","v":152.33,"b":145.70},{"k":"eA","d":"2023-11-08","v":152.10,"b":145.70},
      {"k":"eA","d":"2023-11-23","v":151.43,"b":145.70},{"k":"eA","d":"2023-12-06","v":150.36,"b":145.70},
      {"k":"eA","d":"2023-12-16","v":148.98,"b":145.70},{"k":"eA","d":"2023-12-22","v":147.39,"b":145.70},
      {"k":"eA","d":"2023-12-25","v":145.70,"b":145.70},
      {"k":"eB","d":"2024-03-28","v":151.30,"b":151.30},{"k":"eB","d":"2024-03-31","v":154.07,"b":151.30},
      {"k":"eB","d":"2024-04-08","v":156.70,"b":151.30},{"k":"eB","d":"2024-04-20","v":159.00,"b":151.30},
      {"k":"eB","d":"2024-05-06","v":160.78,"b":151.30},{"k":"eB","d":"2024-05-24","v":161.91,"b":151.30},
      {"k":"eB","d":"2024-06-13","v":162.31,"b":151.30},{"k":"eB","d":"2024-07-03","v":161.91,"b":151.30},
      {"k":"eB","d":"2024-07-22","v":160.78,"b":151.30},{"k":"eB","d":"2024-08-07","v":159.00,"b":151.30},
      {"k":"eB","d":"2024-08-19","v":156.70,"b":151.30},{"k":"eB","d":"2024-08-27","v":154.07,"b":151.30},
      {"k":"eB","d":"2024-08-29","v":151.30,"b":151.30}
    ],
    "segs": [
      {"k":"b1","d":"2006-02-19","d2":"2008-08-19","v":110.58,"v2":110.58},
      {"k":"b2","d":"2010-04-17","d2":"2013-05-16","v":85.55,"v2":85.55},
      {"k":"b3","d":"2014-10-06","d2":"2016-05-25","v":116.07,"v2":116.07},
      {"k":"b4","d":"2023-04-06","d2":"2025-09-02","v":139.51,"v2":139.51},
      {"k":"bA","d":"2023-08-19","d2":"2023-12-25","v":145.70,"v2":145.70},
      {"k":"bB","d":"2024-03-28","d2":"2024-08-29","v":151.30,"v2":151.30},
      {"k":"tr","d":"2017-01-01","d2":"2027-09-06","v":118.5,"v2":102.77},
      {"k":"mg","d":"2016-06-28","d2":"2027-09-06","v":101.1,"v2":101.1},
      {"k":"gr","d":"2022-04-18","d2":"2027-09-06","v":126.25,"v2":126.25},
      {"k":"px","d":"2026-08-10","d2":"2027-09-06","v":157.78,"v2":157.78}
    ],
    "notes": [
      {"k":"hd","d":"2006-06-24","v":165.01,"t":"USD/JPY 157.7800"},
      {"k":"hr","d":"2007-12-20","v":165.01,"t":"-0.6400 -0.40%"},
      {"k":"hd","d":"2009-04-02","v":165.01,"t":"D: 05/01/2009 O:\u00a0 96.4000"},
      {"k":"hb","d":"2011-07-04","v":165.01,"t":"H:\u00a0 99.5900"},
      {"k":"hd","d":"2012-06-22","v":165.01,"t":"L:\u00a0\u00a0 96.3900 C:\u00a0 99.0800 Y: 162.8048"},
      {"k":"wm","d":"2025-10-15","v":75.72,"t":"slopecharts.com"}
    ]
  },
  "encoding": {
    "x": {
      "field": "d",
      "type": "temporal",
      "scale": {"domain": [{"year": 2006, "month": 5, "date": 19}, {"year": 2027, "month": 9, "date": 6}]},
      "axis": {
        "title": null,
        "values": [
          {"year": 2007, "month": 6, "date": 10}, {"year": 2009, "month": 6, "date": 10},
          {"year": 2011, "month": 6, "date": 10}, {"year": 2013, "month": 6, "date": 10},
          {"year": 2015, "month": 6, "date": 10}, {"year": 2017, "month": 6, "date": 10},
          {"year": 2019, "month": 6, "date": 10}, {"year": 2021, "month": 6, "date": 10},
          {"year": 2023, "month": 6, "date": 10}, {"year": 2025, "month": 6, "date": 10}
        ],
        "format": "%Y",
        "grid": false,
        "ticks": false,
        "domainColor": "#808080",
        "domainWidth": 2,
        "labelColor": "#1a1a80",
        "labelFont": "Liberation Sans Narrow, Liberation Sans, sans-serif",
        "labelFontSize": 11,
        "labelPadding": 14,
        "labelOverlap": false,
        "labelFlush": false
      }
    }
  },
  "resolve": {"scale": {"color": "independent"}},
  "layer": [
    {
      "data": {"name": "arcs"},
      "mark": {"type": "area", "interpolate": "cardinal", "fillOpacity": 0.11, "clip": true},
      "encoding": {
        "y": {"field": "v", "type": "quantitative", "scale": {"type": "log", "domain": [75.23, 166.97], "nice": false},
              "axis": {"title": null, "orient": "right", "offset": -10, "format": "d", "values": [80, 85, 90, 95, 100, 105, 110, 115, 120, 125, 130, 135, 140, 145, 150, 155, 160]}},
        "y2": {"field": "b"},
        "color": {"field": "k", "type": "nominal", "legend": null,
          "scale": {"domain": ["e1", "e2", "e3", "e4", "eA", "eB"], "range": ["#ff0000", "#00c000", "#ff0000", "#ff0000", "#ff0000", "#ff0000"]}}
      }
    },
    {
      "data": {"name": "arcs"},
      "mark": {"type": "line", "interpolate": "cardinal", "strokeWidth": 1.3, "clip": true},
      "encoding": {
        "y": {"field": "v", "type": "quantitative", "scale": {"type": "log", "domain": [75.23, 166.97], "nice": false},
              "axis": {"title": null, "orient": "right", "offset": -10, "format": "d", "values": [80, 85, 90, 95, 100, 105, 110, 115, 120, 125, 130, 135, 140, 145, 150, 155, 160]}},
        "color": {"field": "k", "type": "nominal", "legend": null,
          "scale": {"domain": ["e1", "e2", "e3", "e4", "eA", "eB"], "range": ["#ff1a1a", "#2ecc2e", "#ff1a1a", "#ff1a1a", "#ff1a1a", "#ff1a1a"]}}
      }
    },
    {
      "data": {"name": "segs"},
      "transform": [{"filter": "datum.k != 'px'"}],
      "mark": {"type": "rule", "strokeWidth": 1.4, "clip": true},
      "encoding": {
        "x2": {"field": "d2"},
        "y": {"field": "v", "type": "quantitative", "scale": {"type": "log", "domain": [75.23, 166.97], "nice": false},
              "axis": {"title": null, "orient": "right", "offset": -10, "format": "d", "values": [80, 85, 90, 95, 100, 105, 110, 115, 120, 125, 130, 135, 140, 145, 150, 155, 160]}},
        "y2": {"field": "v2"},
        "color": {"field": "k", "type": "nominal", "legend": null,
          "scale": {"domain": ["b1", "b2", "b3", "b4", "bA", "bB", "tr", "mg", "gr"],
                    "range": ["#ff1a1a", "#2ecc2e", "#ff1a1a", "#ff7070", "#ff1a1a", "#ff5a5a", "#ff2020", "#e020e0", "#5cb85c"]}}
      }
    },
    {
      "data": {"name": "segs"},
      "transform": [{"filter": "datum.k == 'px'"}],
      "mark": {"type": "rule", "strokeWidth": 3.5, "color": "#ff0000", "clip": true},
      "encoding": {
        "x2": {"field": "d2"},
        "y": {"field": "v", "type": "quantitative", "scale": {"type": "log", "domain": [75.23, 166.97], "nice": false},
              "axis": {"title": null, "orient": "right", "offset": -10, "format": "d", "values": [80, 85, 90, 95, 100, 105, 110, 115, 120, 125, 130, 135, 140, 145, 150, 155, 160]}},
        "y2": {"field": "v2"}
      }
    },
    {
      "data": {"name": "fx"},
      "mark": {"type": "rule", "strokeWidth": 3.8, "color": "#1e1e1e"},
      "encoding": {
        "y": {"field": "l", "type": "quantitative", "scale": {"type": "log", "domain": [75.23, 166.97], "nice": false},
              "axis": {"title": null, "orient": "right", "offset": -10, "format": "d", "values": [80, 85, 90, 95, 100, 105, 110, 115, 120, 125, 130, 135, 140, 145, 150, 155, 160]}},
        "y2": {"field": "h"}
      }
    },
    {
      "data": {"name": "fx"},
      "mark": {"type": "line", "strokeWidth": 1.2, "color": "#1e1e1e"},
      "encoding": {
        "y": {"field": "c", "type": "quantitative", "scale": {"type": "log", "domain": [75.23, 166.97], "nice": false},
              "axis": {"title": null, "orient": "right", "offset": -10, "format": "d", "values": [80, 85, 90, 95, 100, 105, 110, 115, 120, 125, 130, 135, 140, 145, 150, 155, 160]}}
      }
    },
    {
      "data": {"name": "notes"},
      "transform": [{"filter": "datum.k == 'hd' || datum.k == 'hr'"}],
      "mark": {"type": "text", "font": "Liberation Mono, DejaVu Sans Mono, monospace", "fontSize": 16, "align": "left", "baseline": "alphabetic"},
      "encoding": {
        "y": {"field": "v", "type": "quantitative", "scale": {"type": "log", "domain": [75.23, 166.97], "nice": false},
              "axis": {"title": null, "orient": "right", "offset": -10, "format": "d", "values": [80, 85, 90, 95, 100, 105, 110, 115, 120, 125, 130, 135, 140, 145, 150, 155, 160]}},
        "text": {"field": "t"},
        "color": {"field": "k", "type": "nominal", "legend": null, "scale": {"domain": ["hd", "hr"], "range": ["#3a3a3a", "#ff4040"]}}
      }
    },
    {
      "data": {"name": "notes"},
      "transform": [{"filter": "datum.k == 'hb'"}],
      "mark": {"type": "text", "font": "Liberation Mono, DejaVu Sans Mono, monospace", "fontSize": 16, "fontWeight": "bold", "align": "left", "baseline": "alphabetic", "color": "#000000"},
      "encoding": {
        "y": {"field": "v", "type": "quantitative", "scale": {"type": "log", "domain": [75.23, 166.97], "nice": false},
              "axis": {"title": null, "orient": "right", "offset": -10, "format": "d", "values": [80, 85, 90, 95, 100, 105, 110, 115, 120, 125, 130, 135, 140, 145, 150, 155, 160]}},
        "text": {"field": "t"}
      }
    },
    {
      "data": {"name": "notes"},
      "transform": [{"filter": "datum.k == 'wm'"}],
      "mark": {"type": "text", "font": "DejaVu Sans, sans-serif", "fontSize": 19, "fontWeight": "bold", "align": "center", "baseline": "alphabetic", "color": "#8a8a8a"},
      "encoding": {
        "y": {"field": "v", "type": "quantitative", "scale": {"type": "log", "domain": [75.23, 166.97], "nice": false},
              "axis": {"title": null, "orient": "right", "offset": -10, "format": "d", "values": [80, 85, 90, 95, 100, 105, 110, 115, 120, 125, 130, 135, 140, 145, 150, 155, 160]}},
        "text": {"field": "t"}
      }
    }
  ]
}
